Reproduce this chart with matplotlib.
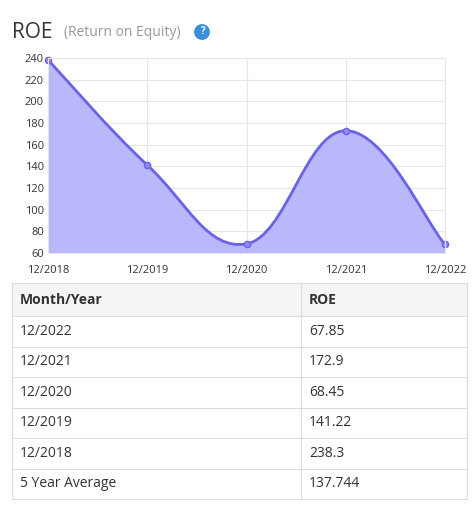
import matplotlib
matplotlib.use("Agg")
import matplotlib.pyplot as plt
from matplotlib.path import Path
from matplotlib.patches import PathPatch
import numpy as np

plt.rcParams['font.family'] = ['Open Sans', 'DejaVu Sans']

years = ["12/2018", "12/2019", "12/2020", "12/2021", "12/2022"]
roe = [238.3, 141.22, 68.45, 172.9, 67.85]
table_labels = ["12/2022", "12/2021", "12/2020", "12/2019", "12/2018", "5 Year Average"]
table_values = ["67.85", "172.9", "68.45", "141.22", "238.3", "137.744"]

W, H = 475, 521
fig = plt.figure(figsize=(W/100, H/100), dpi=100)
fig.text(12/W, 1-32/H, "ROE", fontsize=15, color="#333333", va="center")
fig.text(64/W, 1-33/H, "(Return on Equity)", fontsize=10, color="#999999", va="center")
fig.text(202/W, 1-32/H, "?", fontsize=7, color="white", weight="bold", ha="center", va="center",
         bbox=dict(boxstyle="circle,pad=0.25", fc="#3a8fd9", ec="none"))

ax = fig.add_axes([48/W, 1-253/H, (445-48)/W, (253-58)/H])
x = np.arange(len(roe))
y = np.array(roe)
verts = [(x[0], y[0])]
codes = [Path.MOVETO]
t = 0.4
for i in range(len(x)-1):
    p0 = (x[max(i-1, 0)], y[max(i-1, 0)])
    p1 = (x[i], y[i]); p2 = (x[i+1], y[i+1])
    p3 = (x[min(i+2, len(x)-1)], y[min(i+2, len(x)-1)])
    c1 = (p1[0] + (p2[0]-p0[0])*t/2, p1[1] + (p2[1]-p0[1])*t/2)
    c2 = (p2[0] - (p3[0]-p1[0])*t/2, p2[1] - (p3[1]-p1[1])*t/2)
    verts += [c1, c2, p2]
    codes += [Path.CURVE4]*3
line_path = Path(verts, codes)
fill_verts = verts + [(x[-1], 60), (x[0], 60), (x[0], y[0])]
fill_codes = codes + [Path.LINETO, Path.LINETO, Path.CLOSEPOLY]
ax.add_patch(PathPatch(Path(fill_verts, fill_codes), fc="#b8b8fb", ec="none"))
ax.add_patch(PathPatch(line_path, fc="none", ec="#6b63e6", lw=2))
ax.plot(x, y, "o", ms=4.5, mfc="#8f8af0", mec="#6b63e6", mew=1, clip_on=False)
ax.set_xlim(0, 4)
ax.set_ylim(60, 240)
ax.set_yticks(range(60, 241, 20))
ax.set_xticks(x)
ax.set_xticklabels(years)
ax.tick_params(labelsize=8, colors="#333333", length=0)
ax.tick_params(axis="x", pad=9)
ax.tick_params(axis="y", pad=3)
ax.grid(True, color="#e6e6e6", lw=0.8)
ax.set_axisbelow(True)
for s in ax.spines.values():
    s.set_color("#e6e6e6")

tx0, tx1, tcol = 12, 467, 301
ty0 = 283
hh = 33
rh = 30.5
def hl(yp):
    fig.add_artist(plt.Line2D([tx0/W, tx1/W], [1-yp/H, 1-yp/H], color="#dddddd", lw=0.8))
fig.add_artist(plt.Rectangle((tx0/W, 1-(ty0+hh)/H), (tx1-tx0)/W, hh/H, fc="#f5f5f5", ec="none"))
hl(ty0)
fig.text(20/W, 1-(ty0+hh/2)/H, "Month/Year", fontsize=10, weight="bold", color="#333333", va="center")
fig.text((tcol+8)/W, 1-(ty0+hh/2)/H, "ROE", fontsize=10, weight="bold", color="#333333", va="center")
yy = ty0+hh
hl(yy)
for lab, val in zip(table_labels, table_values):
    fig.text(20/W, 1-(yy+rh/2)/H, lab, fontsize=10, color="#333333", va="center")
    fig.text((tcol+8)/W, 1-(yy+rh/2)/H, val, fontsize=10, color="#333333", va="center")
    yy += rh
    hl(yy)
for xv in (tx0, tcol, tx1):
    fig.add_artist(plt.Line2D([xv/W, xv/W], [1-ty0/H, 1-yy/H], color="#dddddd", lw=0.8))

fig.savefig("out.png", dpi=100)
